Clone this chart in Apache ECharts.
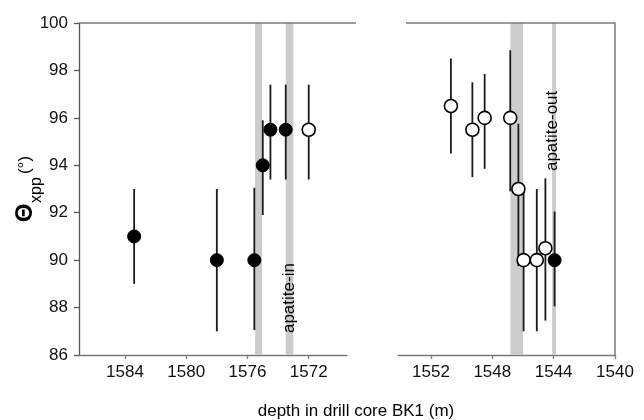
<!DOCTYPE html>
<html>
<head>
<meta charset="utf-8">
<script src="https://cdn.jsdelivr.net/npm/echarts@6/dist/echarts.min.js"></script>
<style>
  html, body { margin: 0; padding: 0; background: #fff; }
  #chart { width: 644px; height: 420px; }
</style>
</head>
<body>
<div id="chart"></div>
<script>
// Lower interval (left panel): depth (m), Θxpp (°), error range
const depthLowerFilled = [1583.4, 1578.0, 1575.55, 1575.0, 1574.5, 1573.5];
const thetaLowerFilled = [91, 90, 90, 94, 95.5, 95.5];
const lowLowerFilled   = [89, 87, 87.05, 91.9, 93.4, 93.4];
const highLowerFilled  = [93, 93, 93.05, 95.9, 97.4, 97.4];

const depthLowerOpen = [1572.0];
const thetaLowerOpen = [95.5];
const lowLowerOpen   = [93.4];
const highLowerOpen  = [97.4];

// Upper interval (right panel)
const depthUpperOpen = [1550.7, 1549.3, 1548.5, 1546.83, 1546.3, 1545.96, 1545.1, 1544.54];
const thetaUpperOpen = [96.5, 95.5, 96.0, 96.0, 93.0, 90.0, 90.0, 90.5];
const lowUpperOpen   = [94.5, 93.5, 93.85, 92.9, 89.75, 87.0, 87.0, 87.45];
const highUpperOpen  = [98.5, 97.5, 97.85, 98.85, 95.75, 93.0, 93.0, 93.45];

const depthUpperFilled = [1543.94];
const thetaUpperFilled = [90];
const lowUpperFilled   = [88.05];
const highUpperFilled  = [92.05];

// Mineral boundary bands (depth ranges)
const bandsLower = [[1575.05, 1575.5], [1573.0, 1573.5]];
const bandsUpper = [[1546.0, 1546.82], [1543.85, 1544.1]];

// Tick labels
const yTicks = [86, 88, 90, 92, 94, 96, 98, 100];
const xTicksLower = [1584, 1580, 1576, 1572];
const xTicksUpper = [1552, 1548, 1544, 1540];

const FONT = 'Liberation Sans, Arial, sans-serif';
const AXIS_COLOR = '#7a7a7a';

const pts = (xs, ys) => xs.map((x, i) => [x, ys[i]]);
const bars = (xs, lo, hi) => xs.map((x, i) => [x, lo[i], hi[i]]);

function errorBar(params, api) {
  const p1 = api.coord([api.value(0), api.value(1)]);
  const p2 = api.coord([api.value(0), api.value(2)]);
  return {
    type: 'line',
    shape: { x1: p1[0], y1: p1[1], x2: p2[0], y2: p2[1] },
    style: { stroke: '#1a1a1a', lineWidth: 1.8 }
  };
}

const bandArea = (bands) => ({
  silent: true,
  itemStyle: { color: '#cccccc', opacity: 1 },
  data: bands.map(b => [{ xAxis: b[0] }, { xAxis: b[1] }])
});

const filledSymbol = { color: '#000', borderColor: '#000', borderWidth: 1, opacity: 1 };
const openSymbol = { color: '#fff', borderColor: '#000', borderWidth: 1.6, opacity: 1 };

const plainNumber = (v) => String(v);

const xLabelStyle = (ticks) => ({
  show: true, fontFamily: FONT, fontSize: 17, color: '#111', margin: 9,
  customValues: ticks, formatter: plainNumber
});

const chart = echarts.init(document.getElementById('chart'), null, { renderer: 'canvas' });

chart.setOption({
  animation: false,
  backgroundColor: '#fff',
  grid: [
    { left: 79, top: 23, width: 268, height: 332 },
    { left: 398, top: 23, width: 217, height: 332 }
  ],
  xAxis: [
    {
      gridIndex: 0, type: 'value', inverse: true, min: 1569.5, max: 1587,
      axisLine: { show: true, lineStyle: { color: AXIS_COLOR, width: 1.3 } },
      axisTick: { show: true, inside: false, length: 4, customValues: xTicksLower,
                  lineStyle: { color: AXIS_COLOR, width: 1.3 } },
      axisLabel: xLabelStyle(xTicksLower),
      splitLine: { show: false }
    },
    {
      gridIndex: 1, type: 'value', inverse: true, min: 1540, max: 1554.15,
      axisLine: { show: true, lineStyle: { color: AXIS_COLOR, width: 1.3 } },
      axisTick: { show: true, inside: false, length: 4, customValues: xTicksUpper,
                  lineStyle: { color: AXIS_COLOR, width: 1.3 } },
      axisLabel: xLabelStyle(xTicksUpper),
      splitLine: { show: false }
    }
  ],
  yAxis: [
    {
      gridIndex: 0, type: 'value', min: 86, max: 100, interval: 2,
      axisLine: { show: true, lineStyle: { color: '#555', width: 1.3 } },
      axisTick: { show: true, length: 5, customValues: yTicks,
                  lineStyle: { color: '#555', width: 1.3 } },
      axisLabel: { fontFamily: FONT, fontSize: 17, color: '#111', margin: 11,
                   customValues: yTicks, formatter: plainNumber },
      splitLine: { show: false }
    },
    {
      gridIndex: 1, type: 'value', min: 86, max: 100, interval: 2, position: 'right',
      axisLine: { show: true, lineStyle: { color: AXIS_COLOR, width: 1.5 } },
      axisTick: { show: false },
      axisLabel: { show: false },
      splitLine: { show: false }
    }
  ],
  graphic: [
    // top frame segments of the two panels
    { type: 'line', shape: { x1: 79, y1: 23, x2: 356, y2: 23 },
      style: { stroke: AXIS_COLOR, lineWidth: 1.5 }, z: 10 },
    { type: 'line', shape: { x1: 406, y1: 23, x2: 615, y2: 23 },
      style: { stroke: AXIS_COLOR, lineWidth: 1.5 }, z: 10 },
    // y-axis title: Θ_xpp (°)
    { type: 'text', x: 25, y: 213, rotation: Math.PI / 2,
      style: { text: 'Θ', font: 'bold 24px ' + FONT, fill: '#000',
               textAlign: 'center', textVerticalAlign: 'middle' } },
    { type: 'text', x: 37, y: 190, rotation: Math.PI / 2,
      style: { text: 'xpp', font: '16px ' + FONT, fill: '#000',
               textAlign: 'center', textVerticalAlign: 'middle' } },
    { type: 'text', x: 25, y: 165, rotation: Math.PI / 2,
      style: { text: '(°)', font: '17px ' + FONT, fill: '#000',
               textAlign: 'center', textVerticalAlign: 'middle' } },
    // x-axis title
    { type: 'text', x: 356, y: 411,
      style: { text: 'depth in drill core BK1 (m)', font: '17px ' + FONT, fill: '#000',
               textAlign: 'center', textVerticalAlign: 'middle' } }
  ],
  series: [
    // bands + annotation, left panel
    {
      type: 'scatter', xAxisIndex: 0, yAxisIndex: 0, symbolSize: 0, silent: true,
      itemStyle: { opacity: 1 },
      data: [[1573.25, 88.4]],
      label: { show: true, position: 'inside', rotate: 90, formatter: 'apatite-in',
               fontFamily: FONT, fontSize: 17, color: '#000' },
      markArea: bandArea(bandsLower), z: 1
    },
    // bands + annotation, right panel
    {
      type: 'scatter', xAxisIndex: 1, yAxisIndex: 1, symbolSize: 0, silent: true,
      itemStyle: { opacity: 1 },
      data: [[1544.09, 95.45]],
      label: { show: true, position: 'inside', rotate: 90, formatter: 'apatite-out',
               fontFamily: FONT, fontSize: 17, color: '#000' },
      markArea: bandArea(bandsUpper), z: 1
    },
    // error bars
    { type: 'custom', xAxisIndex: 0, yAxisIndex: 0, renderItem: errorBar, z: 2,
      encode: { x: 0, y: [1, 2] },
      data: bars(depthLowerFilled, lowLowerFilled, highLowerFilled)
              .concat(bars(depthLowerOpen, lowLowerOpen, highLowerOpen)) },
    { type: 'custom', xAxisIndex: 1, yAxisIndex: 1, renderItem: errorBar, z: 2,
      encode: { x: 0, y: [1, 2] },
      data: bars(depthUpperOpen, lowUpperOpen, highUpperOpen)
              .concat(bars(depthUpperFilled, lowUpperFilled, highUpperFilled)) },
    // markers
    { type: 'scatter', xAxisIndex: 0, yAxisIndex: 0, symbol: 'circle', symbolSize: 13, z: 3,
      itemStyle: filledSymbol, data: pts(depthLowerFilled, thetaLowerFilled) },
    { type: 'scatter', xAxisIndex: 0, yAxisIndex: 0, symbol: 'circle', symbolSize: 13, z: 3,
      itemStyle: openSymbol, data: pts(depthLowerOpen, thetaLowerOpen) },
    { type: 'scatter', xAxisIndex: 1, yAxisIndex: 1, symbol: 'circle', symbolSize: 13, z: 3,
      itemStyle: openSymbol, data: pts(depthUpperOpen, thetaUpperOpen) },
    { type: 'scatter', xAxisIndex: 1, yAxisIndex: 1, symbol: 'circle', symbolSize: 13, z: 3,
      itemStyle: filledSymbol, data: pts(depthUpperFilled, thetaUpperFilled) }
  ]
});
</script>
</body>
</html>
